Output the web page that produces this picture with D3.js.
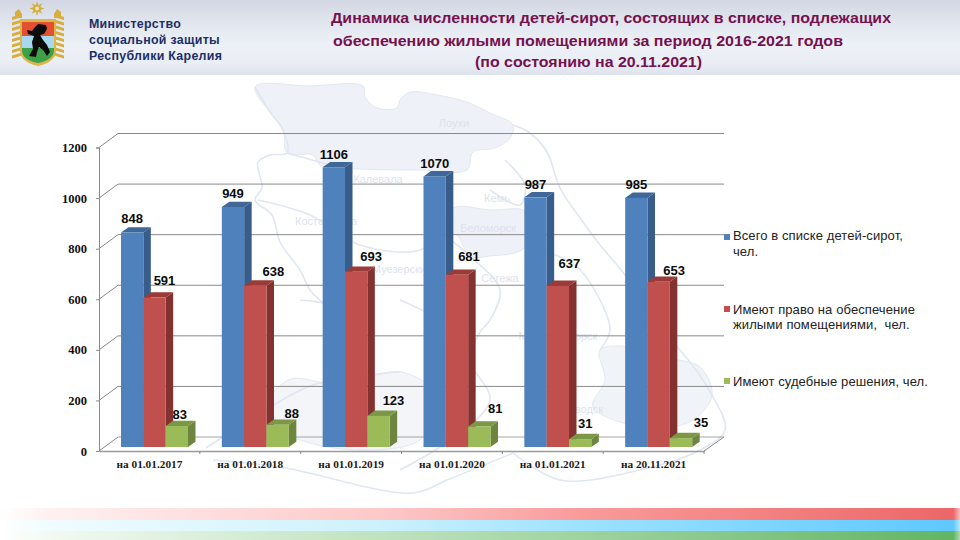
<!DOCTYPE html>
<html lang="ru">
<head>
<meta charset="utf-8">
<title>Динамика численности детей-сирот</title>
<script src="https://cdnjs.cloudflare.com/ajax/libs/d3/7.8.5/d3.min.js"></script>
<style>
html,body{margin:0;padding:0;background:#fff;width:960px;height:540px;overflow:hidden}
svg{display:block}
</style>
</head>
<body>
<svg id="c" width="960" height="540" viewBox="0 0 960 540"></svg>
<script>
// ---- data ----
const categories = ["на 01.01.2017","на 01.01.2018","на 01.01.2019","на 01.01.2020","на 01.01.2021","на 20.11.2021"];
const totalOrphans = [848,949,1106,1070,987,985];
const entitled = [591,638,693,681,637,653];
const courtDecisions = [83,88,123,81,31,35];
const yTicks = [0,200,400,600,800,1000,1200];
const legendLabels = [
  ["Всего в списке детей-сирот,","чел."],
  ["Имеют право на обеспечение","жилыми помещениями,  чел."],
  ["Имеют судебные решения, чел."]
];
const titleLines = [
  "Динамика численности детей-сирот, состоящих в списке, подлежащих",
  "обеспечению жилыми помещениями за период 2016-2021 годов",
  "(по состоянию на 20.11.2021)"
];
const ministryLines = ["Министерство","социальной защиты","Республики Карелия"];

// ---- layout / style (separate from the values) ----
const seriesStyle = [
  {values:totalOrphans,   front:"#4f81bd", side:"#385d8a", top:"#3f6797"},
  {values:entitled,       front:"#c0504d", side:"#843230", top:"#9a3b39"},
  {values:courtDecisions, front:"#9bbb59", side:"#6e8540", top:"#7c9745"}
];
// hand-placed value labels: [dx from bar centre, dy from bar top]
const labelNudge = [
  [[0,-14],[0,-14],[0,-13],[0,-13],[0,-13],[0,-13]],
  [[10,-17],[18,-14],[15,-15],[12,-18],[11.5,-22],[15.5,-11]],
  [[3,-12],[14,-11],[15,-15],[16,-18],[5,-16],[20,-16]]
];
// decorative backdrop map of Karelia: outline sketches
const mapFills = [
  {d:"M255,87L310,86L363,86L365,97L377,108L397,108L400,100L410,92L437,95L467,102L490,113L513,125L510,138L495,148L473,152L467,170L420,170L360,169L320,165L313,155L287,153L283,130Z",c:"#eef1f7"},
  {d:"M453,208L490,210L527,212L524,248L490,256L470,256L457,235L445,232Z",c:"#eef1f7"},
  {d:"M600,350L640,348L670,358L700,367L712,395L693,420L650,428L593,407L605,380Z",c:"#f0f3f8"},
  {d:"M288,380L340,385L402,372L440,400L420,440L360,450L300,440L262,420Z",c:"#f3f5f9"}
];
const mapLines = [
  "M255,87L270,112L283,130L287,153L270,155L258,162L262,188L255,200L272,215L280,242L300,270L310,290L325,305L350,330",
  "M513,125L530,133L547,152L560,188L580,218L600,245L625,275L640,300L650,320L680,350L712,395L725,430L700,450L640,470L560,480L513,453",
  "M206,448L250,420L313,385L400,372",
  "M213,460L280,467L413,493L447,480L513,453",
  "M287,153L330,165M258,200L310,215L360,245L420,250L440,232",
  "M440,232L470,256L500,290L490,320L480,332L470,360L490,400L450,440L400,470",
  "M540,250L575,265L600,300L610,330L600,350",
  "M400,300L440,320L470,345M300,300L340,310L350,350L330,385",
  "M505,160L525,185L520,205L490,190"
];
const mapNames = [
  ["Лоухи",454,127],["Калевала",378,183],["Костомукша",326,225],["Кемь",497,202],
  ["Беломорск",488,232],["Сегежа",500,282],["Муезерский",402,273],["Медвежьегорск",558,340],
  ["Петрозаводск",568,413]
];

const svg = d3.select("#c");
const defs = svg.append("defs");

function gradient(id, stops, vertical){
  const g = defs.append("linearGradient").attr("id",id)
    .attr("x1",0).attr("y1",0).attr("x2",vertical?0:1).attr("y2",vertical?1:0);
  stops.forEach(s=>g.append("stop").attr("offset",s[0]).attr("stop-color",s[1]));
}
gradient("hdr",[[0,"#d3d7e3"],[0.25,"#dfe3ec"],[0.6,"#edf1f7"],[0.85,"#e9edf4"],[1,"#dde2ec"]],true);
gradient("sRed",[[0,"#ffffff"],[0.05,"#fff1f1"],[0.4,"#fdc8c8"],[0.6,"#f99c9c"],[0.993,"#ec6767"],[1,"#f7c0c0"]]);
gradient("sBlue",[[0,"#ffffff"],[0.05,"#f0fcff"],[0.4,"#ccf1fd"],[0.6,"#9fe2ff"],[0.993,"#5ec8ff"],[1,"#b8e8ff"]]);
gradient("sGreen",[[0,"#ffffff"],[0.05,"#f2faf2"],[0.4,"#bfe2bf"],[0.6,"#a0d3a0"],[0.993,"#62b565"],[1,"#aedcb0"]]);

// ---- page furniture ----
svg.append("rect").attr("width",960).attr("height",540).attr("fill","#fff");
svg.append("rect").attr("width",960).attr("height",75).attr("fill","url(#hdr)");

// faint map backdrop, smoothed with d3 curves
const parsePts = s => s.slice(1).replace(/Z$/,"").split("L").map(p=>p.split(",").map(Number));
const closedLine = d3.line().curve(d3.curveCatmullRomClosed.alpha(0.5));
const openLine = d3.line().curve(d3.curveCatmullRom.alpha(0.5));
const map = svg.append("g");
map.selectAll("path.f").data(mapFills).join("path").attr("class","f")
  .attr("d",d=>closedLine(parsePts(d.d)))
  .attr("fill",d=>d.c).attr("stroke","#e2e8f2").attr("stroke-width",1);
map.selectAll("path.l").data(mapLines.flatMap(s=>s.split(/(?=M)/))).join("path").attr("class","l")
  .attr("d",d=>openLine(parsePts(d)))
  .attr("fill","none").attr("stroke","#e0e7f1").attr("stroke-width",1.6);
map.selectAll("text").data(mapNames).join("text").text(d=>d[0])
  .attr("x",d=>d[1]).attr("y",d=>d[2]).attr("text-anchor","middle")
  .attr("font-family","'Liberation Sans',sans-serif").attr("font-size",11).attr("fill","#dde3ed");

// emblem
const em = svg.append("g");
[[12,1],[54,-1]].forEach(([x,dir])=>{
  const b = em.append("g");
  for(let i=0;i<8;i++){
    const y = 14+i*5.5;
    b.append("path").attr("d",`M${x+(dir>0?0:10)},${y+3}L${x+(dir>0?10:0)},${y}L${x+(dir>0?10:0)},${y+3}L${x+(dir>0?0:10)},${y+6}Z`).attr("fill","#d7ad3c");
  }
});
em.append("path").attr("d","M15,12L19,9L22,14L22,18L15,18Z").attr("fill","#d7ad3c");
em.append("path").attr("d","M61,12L57,9L54,14L54,18L61,18Z").attr("fill","#d7ad3c");
em.append("path").attr("d","M20,19H56V50Q56,62 38,66Q20,62 20,50Z").attr("fill","#dcb648");
em.append("rect").attr("x",22).attr("y",22).attr("width",32).attr("height",14).attr("fill","#e25030");
em.append("rect").attr("x",22).attr("y",36).attr("width",32).attr("height",12).attr("fill","#a8d8ee");
em.append("path").attr("d","M22,48H54V50Q54,60 38,63Q22,60 22,50Z").attr("fill","#3fa04a");
em.append("path").attr("d","M27,30L32,31L35,27L38,24L46,25L47,29L44,34L40,35L43,40L47,45L50,52L47,56L43,50L39,47L37,52L36,57L29,56L33,49L32,42L34,36L28,34Z").attr("fill","#0c0c0c");
const star = d3.range(16).map(i=>{const r=i%2?3.6:7.5,a=i*Math.PI/8;return [37+r*Math.sin(a),8.5-r*Math.cos(a)];});
em.append("polygon").attr("points",star.join(" ")).attr("fill","#d7ad3c");
em.append("circle").attr("cx",37).attr("cy",8.5).attr("r",2).attr("fill","#efe3bc");

svg.append("g").selectAll("text").data(ministryLines).join("text").text(d=>d)
  .attr("x",89).attr("y",(d,i)=>28+i*16)
  .attr("font-family","'Liberation Sans',sans-serif").attr("font-weight",700).attr("font-size",12.4)
  .attr("letter-spacing",0.3)
  .attr("fill","#1c2f66");

const titleX=[331,333,475], titleY=[23,46,67], titleW=[560,510,227];
svg.append("g").selectAll("text").data(titleLines).join("text").text(d=>d)
  .attr("x",(d,i)=>titleX[i]).attr("y",(d,i)=>titleY[i])
  .attr("textLength",(d,i)=>titleW[i]).attr("lengthAdjust","spacingAndGlyphs")
  .attr("font-family","'Liberation Sans',sans-serif").attr("font-weight",700).attr("font-size",14.3)
  .attr("fill","#76114f");

// bottom stripes
[["sRed",508,12],["sBlue",520,11],["sGreen",531,9]].forEach(([id,y,h])=>
  svg.append("rect").attr("x",0).attr("y",y).attr("width",960).attr("height",h).attr("fill",`url(#${id})`));

// ---- chart ----
const x = d3.scaleBand().domain(categories).range([99,704]);
const y = d3.scaleLinear().domain([0,1200]).range([447,143.5]);   // plane of the bars
const wallShift = -10, frontShift = 4, wallDx = 20;               // pseudo-3D planes
const yFront = y.copy().range(y.range().map(v=>v+frontShift));
const inner = d3.scaleBand().domain(d3.range(3)).range([0,67]);
const barOffset = 22, depthX = 7.5, depthY = 5.3;
const gridColor = "#8a8a8a";

const chart = svg.append("g");
// back wall gridlines and side-wall diagonals
const grid = chart.append("g");
grid.selectAll("line.g").data(yTicks.filter(t=>t>0)).join("line").attr("class","g")
  .attr("x1",99+wallDx-1).attr("x2",704+wallDx)
  .attr("y1",d=>y(d)+wallShift).attr("y2",d=>y(d)+wallShift)
  .attr("stroke",gridColor).attr("stroke-width",1);
grid.append("line").attr("x1",99+wallDx-1).attr("x2",704+wallDx)
  .attr("y1",y(0)+wallShift).attr("y2",y(0)+wallShift).attr("stroke",gridColor).attr("opacity",.75);
grid.selectAll("line.d").data(yTicks).join("line").attr("class","d")
  .attr("x1",99).attr("x2",99+wallDx-1)
  .attr("y1",d=>yFront(d)).attr("y2",d=>y(d)+wallShift)
  .attr("stroke",gridColor).attr("stroke-width",1);
grid.append("line").attr("x1",704).attr("x2",704+wallDx)
  .attr("y1",yFront(0)).attr("y2",y(0)+wallShift).attr("stroke",gridColor);

// value axis
const yAxis = d3.axisLeft(yFront).tickValues(yTicks).tickSize(3).tickPadding(9).tickFormat(d3.format("d"));
const ya = chart.append("g").attr("transform","translate(99,0)").call(yAxis);
ya.select(".domain").attr("stroke",gridColor).attr("stroke-width",1);
ya.selectAll(".tick line").attr("stroke",gridColor);
ya.selectAll("text").attr("font-family","'Liberation Serif',serif").attr("font-weight",700)
  .attr("font-size",12.5).attr("fill","#111");

// category axis
const xAxis = d3.axisBottom(x).tickSize(0).tickPadding(9);
const xa = chart.append("g").attr("transform",`translate(0,${yFront(0)})`).call(xAxis);
xa.select(".domain").attr("stroke","#9a9a9a").attr("stroke-width",1.4);
xa.selectAll("text").attr("font-family","'Liberation Serif',serif").attr("font-weight",700)
  .attr("font-size",11.3).attr("fill","#1a1a1a");
chart.append("g").selectAll("line").data(d3.range(1,7)).join("line")
  .attr("x1",i=>99+x.step()*i).attr("x2",i=>99+x.step()*i)
  .attr("y1",yFront(0)).attr("y2",yFront(0)+3).attr("stroke",gridColor);

// bars
const bars = chart.append("g");
categories.forEach((c,ci)=>{
  seriesStyle.forEach((s,si)=>{
    const x0 = x(c)+barOffset+inner(si), w = inner.bandwidth(), t = y(s.values[ci]), b = y(0);
    const g = bars.append("g");
    g.append("path").attr("d",`M${x0+w},${t}L${x0+w+depthX},${t-depthY}L${x0+w+depthX},${b-depthY}L${x0+w},${b}Z`).attr("fill",s.side);
    g.append("path").attr("d",`M${x0},${t}L${x0+depthX},${t-depthY}L${x0+w+depthX},${t-depthY}L${x0+w},${t}Z`).attr("fill",s.top);
    g.append("rect").attr("x",x0).attr("y",t).attr("width",w).attr("height",b-t).attr("fill",s.front);
  });
});

// value labels
const labels = chart.append("g");
seriesStyle.forEach((s,si)=>{
  labels.selectAll(`text.s${si}`).data(s.values).join("text").attr("class",`s${si}`)
    .text(d=>d)
    .attr("x",(d,i)=>x(categories[i])+barOffset+inner(si)+inner.bandwidth()/2+labelNudge[si][i][0])
    .attr("y",(d,i)=>y(d)+labelNudge[si][i][1])
    .attr("dy","0.35em").attr("text-anchor","middle")
    .attr("font-family","'Liberation Sans',sans-serif").attr("font-weight",700).attr("font-size",13)
    .attr("fill","#0b0b0b");
});

// legend
const legendTop = [234,306,378], legendTextY=[[240,256],[314,329],[386]];
const legend = svg.append("g");
seriesStyle.forEach((s,i)=>{
  legend.append("rect").attr("x",724).attr("y",legendTop[i]).attr("width",6).attr("height",6).attr("fill",s.front);
  legendLabels[i].forEach((t,j)=>{
    legend.append("text").text(t).attr("x",733).attr("y",legendTextY[i][j])
      .style("white-space","pre")
      .attr("font-family","'Liberation Sans',sans-serif").attr("font-size",13).attr("letter-spacing",0.1).attr("fill","#222");
  });
});
</script>
</body>
</html>
